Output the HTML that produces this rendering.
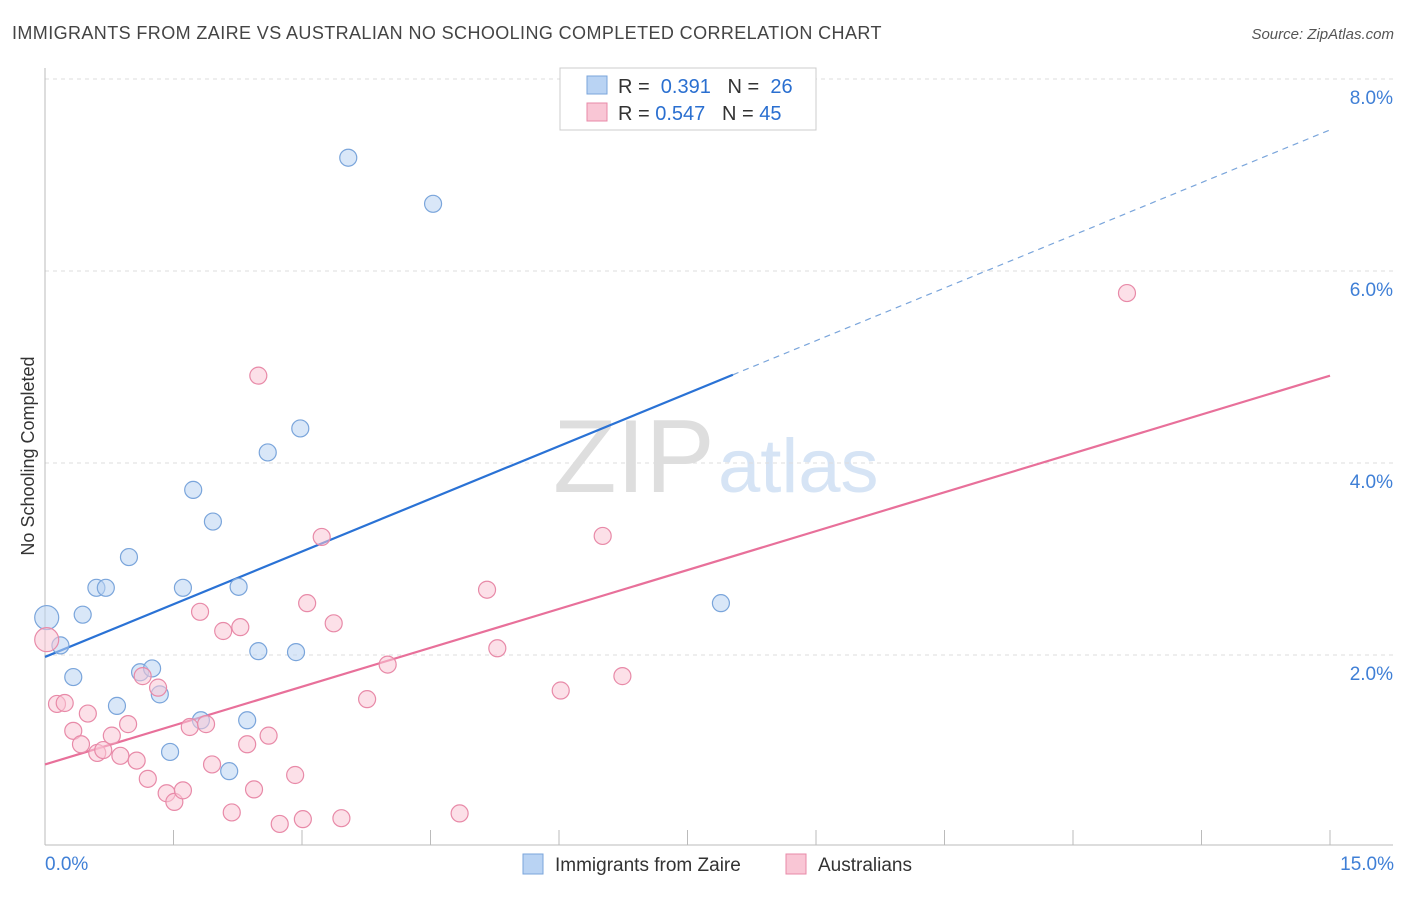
<!DOCTYPE html>
<html><head><meta charset="utf-8"><style>
body{margin:0;background:#fff;font-family:"Liberation Sans",sans-serif;}
svg text{font-family:"Liberation Sans",sans-serif;}
</style></head><body>
<svg id="chart" width="1406" height="892" viewBox="0 0 1406 892" xmlns="http://www.w3.org/2000/svg">
<text x="12" y="39" font-size="18" fill="#444" letter-spacing="0.4">IMMIGRANTS FROM ZAIRE VS AUSTRALIAN NO SCHOOLING COMPLETED CORRELATION CHART</text>
<text x="1394" y="39" font-size="15" fill="#555" font-style="italic" text-anchor="end">Source: ZipAtlas.com</text>
<text x="553" y="492" font-size="104" fill="#dedede" font-family="Liberation Serif">ZIP</text>
<text x="718" y="492" font-size="76" fill="#d6e4f5">atlas</text>
<g id="grid"></g>
<g id="axes"></g>
<g id="lines"></g>
<g id="points"></g>
<text transform="translate(34,456) rotate(-90)" font-size="18" fill="#333" text-anchor="middle">No Schooling Completed</text>
<g>
<rect x="560" y="68" width="256" height="62" fill="#fff" stroke="#ccc"/>
<rect x="587" y="76" width="20" height="18" fill="#b9d3f3" stroke="#7aa5db"/>
<rect x="587" y="103" width="20" height="18" fill="#f9c6d5" stroke="#e88aa8"/>
<text x="618" y="93" font-size="20" fill="#333">R = <tspan fill="#2a6fd0">&#160;0.391</tspan>&#160;&#160;&#160;N = <tspan fill="#2a6fd0">&#160;26</tspan></text>
<text x="618" y="120" font-size="20" fill="#333">R = <tspan fill="#2a6fd0">0.547</tspan>&#160;&#160;&#160;N = <tspan fill="#2a6fd0">45</tspan></text>
</g>
<g>
<rect x="523" y="854" width="20" height="20" fill="#b9d3f3" stroke="#7aa5db"/>
<text x="555" y="871" font-size="19" fill="#333">Immigrants from Zaire</text>
<rect x="786" y="854" width="20" height="20" fill="#f9c6d5" stroke="#e88aa8"/>
<text x="818" y="871" font-size="19" fill="#333">Australians</text>
</g>
</svg>
<script>
const blueX=[0.02,0.18,0.33,0.44,0.60,0.71,0.84,0.98,1.11,1.25,1.34,1.46,1.61,1.73,1.82,1.96,2.15,2.26,2.36,2.49,2.60,2.93,2.98,3.54,4.53,7.89];
const blueY=[2.39,2.10,1.77,2.42,2.70,2.70,1.47,3.02,1.82,1.86,1.59,0.99,2.70,3.72,1.32,3.39,0.79,2.71,1.32,2.04,4.11,2.03,4.36,7.18,6.70,2.54];
const pinkX=[0.02,0.14,0.23,0.33,0.42,0.50,0.61,0.68,0.78,0.88,0.97,1.07,1.20,1.14,1.32,1.42,1.51,1.61,1.69,1.81,1.88,1.95,2.08,2.18,2.28,2.36,2.44,2.49,2.61,2.74,2.92,3.01,3.06,3.23,3.37,3.46,3.76,4.00,4.84,5.16,5.28,6.02,6.51,6.74,12.63];
const pinkY=[2.16,1.49,1.50,1.21,1.07,1.39,0.98,1.01,1.16,0.95,1.28,0.90,0.71,1.78,1.66,0.56,0.47,0.59,1.25,2.45,1.28,0.86,2.25,0.36,2.29,1.07,0.60,4.91,1.16,0.24,0.75,0.29,2.54,3.23,2.33,0.30,1.54,1.90,0.35,2.68,2.07,1.63,3.24,1.78,5.77];
const blueTrend=[1.98,0.366,8.03];
const pinkTrend=[0.86,0.27];
const yTicks=[2,4,6,8];
const yTickLabels=["2.0%","4.0%","6.0%","8.0%"];
const xTicks=[0,1.5,3,4.5,6,7.5,9,10.5,12,13.5,15];
const xLabels=["0.0%","15.0%"];
const sx=v=>45+v*85.667, sy=v=>847-v*96;
const NS="http://www.w3.org/2000/svg";
function mk(parent,tag,attrs){const e=document.createElementNS(NS,tag);for(const k in attrs)e.setAttribute(k,attrs[k]);document.getElementById(parent).appendChild(e);return e;}
yTicks.forEach((t,i)=>{
 const g=mk('grid','line',{x1:45,x2:1393,y1:sy(t),y2:sy(t),stroke:'#ddd','stroke-dasharray':'4,4'});
 
 
 const tx=mk('grid','text',{x:1393,y:sy(t)+25,'font-size':19,fill:'#3f7fd6','text-anchor':'end'});
 tx.textContent=yTickLabels[i];
 
 
});
let a=mk('axes','line',{x1:45,x2:45,y1:68,y2:845,stroke:'#bbb'});


a=mk('axes','line',{x1:45,x2:1393,y1:845,y2:845,stroke:'#bbb'});


xTicks.forEach(t=>{
 const l=mk('axes','line',{x1:sx(t),x2:sx(t),y1:830,y2:845,stroke:'#bbb'});
 
 
});
[[0,'start',45],[15,'end',1394]].forEach((d,i)=>{
 const tx=mk('axes','text',{x:d[2],y:870,'font-size':19,fill:'#3f7fd6','text-anchor':d[1]});
 tx.textContent=xLabels[i];
 
 
});
function drawPts(X,Y,fill,stroke,name){
 X.forEach((x,i)=>{
  const c=mk('points','circle',{cx:sx(x),cy:sy(Y[i]),r:i===0?12:8.5,fill:fill,'fill-opacity':0.55,stroke:stroke,'stroke-width':1.2});
  
  
 });
}
let l=mk('lines','line',{x1:sx(0),y1:sy(blueTrend[0]),x2:sx(blueTrend[2]),y2:sy(blueTrend[0]+blueTrend[1]*blueTrend[2]),stroke:'#2a72d5','stroke-width':2.2});


l=mk('lines','line',{x1:sx(blueTrend[2]),y1:sy(blueTrend[0]+blueTrend[1]*blueTrend[2]),x2:sx(15),y2:sy(blueTrend[0]+blueTrend[1]*15),stroke:'#7aa5db','stroke-width':1.2,'stroke-dasharray':'6,5'});


l=mk('lines','line',{x1:sx(0),y1:sy(pinkTrend[0]),x2:sx(15),y2:sy(pinkTrend[0]+pinkTrend[1]*15),stroke:'#e8709a','stroke-width':2.2});


drawPts(blueX,blueY,'#b9d3f3','#7aa5db','zaire-point');
drawPts(pinkX,pinkY,'#f9c6d5','#e88aa8','australians-point');
</script>
</body></html>
